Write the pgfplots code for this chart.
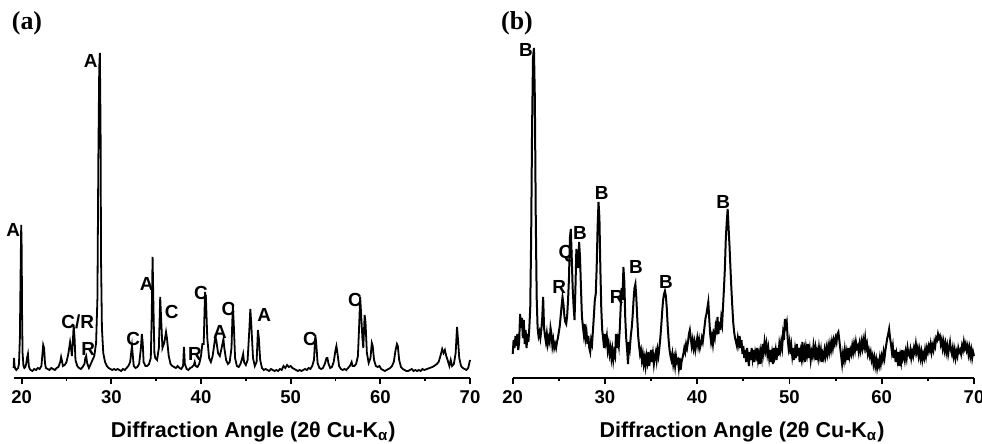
\documentclass[border=0pt]{standalone}
\usepackage{pgfplots}
\pgfplotsset{compat=1.18}
\usepackage{fontspec}
\setmainfont{Liberation Sans}
\newfontfamily\tnr{Liberation Serif}
\newcommand{\pk}[3]{\node[font=\fontsize{9.5}{9.5}\selectfont\bfseries,inner sep=0pt] at (axis cs:#1,#2) {#3};}
\pgfplotsset{
  xrdaxis/.style={
    scale only axis, height=166.5bp, anchor=south west,
    ymin=0, ymax=333, xmax=70, clip=false,
    axis x line*=bottom, axis y line=none,
    axis line style={line width=1bp},
    xtick={20,30,...,70}, minor xtick={25,35,...,65},
    tick align=outside, major tick length=3bp, minor tick length=1.6bp,
    every tick/.style={black,line width=0.9bp},
    /pgf/number format/assume math mode=true,
    xticklabel style={font=\fontsize{9.3}{10}\selectfont\bfseries},
    xlabel style={font=\fontsize{10.8}{12}\selectfont\bfseries, anchor=center},
  }
}
\begin{document}
\begin{tikzpicture}
\begin{axis}[xrdaxis, at={(6.8bp,33bp)}, width=228.2bp, xmin=19.1,
  xlabel={Diffraction Angle (2θ Cu-K\textsubscript{α})},
  xlabel style={at={(axis description cs:0.525,-0.162)}}]
\addplot[black, line width=0.9bp] coordinates {
(19.1,10) (19.15,20) (19.2,12) (19.3,9) (19.4,8) (19.5,9) (19.6,10) (19.7,14) (19.8,40) (19.9,120) (19.95,153) (20.0,130) (20.05,60) (20.1,25) (20.2,12) (20.3,10) (20.4,11) (20.5,14) (20.6,20) (20.7,24) (20.8,12) (20.9,9) (21.0,8) (21.2,7) (21.4,9) (21.6,8) (21.8,10) (22.0,9) (22.2,12) (22.3,22) (22.4,33) (22.5,30) (22.6,15) (22.7,10) (22.9,9) (23.1,8) (23.3,10) (23.5,9) (23.7,8) (23.9,10) (24.1,11) (24.3,16) (24.4,21) (24.5,17) (24.6,12) (24.8,13) (25.0,16) (25.2,24) (25.4,36) (25.5,30) (25.6,22) (25.7,35) (25.8,53) (25.9,40) (26.0,18) (26.2,12) (26.4,10) (26.6,9) (26.8,11) (27.0,14) (27.1,20) (27.2,22) (27.3,15) (27.5,10) (27.7,14) (27.9,18) (28.1,22) (28.3,35) (28.45,80) (28.55,218) (28.65,310) (28.72,325) (28.8,250) (28.85,120) (28.95,50) (29.1,25) (29.3,16) (29.5,12) (29.7,10) (29.9,9) (30.1,8) (30.3,9) (30.5,8) (30.7,9) (30.9,8) (31.1,7) (31.3,9) (31.5,8) (31.7,10) (31.9,12) (32.1,16) (32.2,24) (32.3,32) (32.4,22) (32.5,12) (32.7,10) (32.9,11) (33.1,14) (33.3,30) (33.4,44) (33.5,35) (33.6,16) (33.8,12) (34.0,12) (34.2,14) (34.4,20) (34.5,60) (34.6,121) (34.7,70) (34.8,25) (34.9,20) (35.1,18) (35.3,30) (35.45,81) (35.55,60) (35.7,30) (35.9,35) (36.1,46) (36.2,40) (36.4,22) (36.6,14) (36.8,12) (37.0,11) (37.2,10) (37.4,12) (37.6,10) (37.8,9) (38.0,12) (38.1,31) (38.2,14) (38.4,9) (38.6,8) (38.8,10) (39.0,11) (39.2,13) (39.3,16) (39.4,12) (39.6,11) (39.8,14) (40.0,22) (40.15,34) (40.3,34) (40.45,86) (40.55,80) (40.7,40) (40.9,20) (41.1,16) (41.3,22) (41.5,35) (41.6,41) (41.7,38) (41.9,25) (42.1,22) (42.3,30) (42.5,39) (42.6,30) (42.8,18) (43.0,14) (43.2,16) (43.4,30) (43.55,73) (43.65,55) (43.8,20) (44.0,12) (44.2,11) (44.4,14) (44.6,20) (44.7,24) (44.8,16) (45.0,13) (45.2,18) (45.4,50) (45.5,69) (45.6,55) (45.8,20) (46.0,12) (46.2,16) (46.35,48) (46.45,40) (46.6,18) (46.8,10) (47.0,8) (47.2,9) (47.4,8) (47.6,7) (47.8,9) (48.0,8) (48.2,7) (48.4,8) (48.6,7) (48.8,9) (49.0,8) (49.2,12) (49.4,10) (49.6,13) (49.8,11) (50.0,12) (50.2,10) (50.4,9) (50.6,8) (50.8,7) (51.0,8) (51.2,7) (51.4,8) (51.6,9) (51.8,8) (52.0,10) (52.2,9) (52.4,12) (52.6,18) (52.75,43) (52.85,35) (53.0,15) (53.2,10) (53.4,9) (53.6,10) (53.8,14) (54.0,20) (54.1,20) (54.2,15) (54.4,10) (54.6,11) (54.8,16) (55.0,28) (55.1,32) (55.2,26) (55.4,12) (55.6,9) (55.8,8) (56.0,9) (56.2,8) (56.4,10) (56.6,12) (56.8,16) (56.9,12) (57.1,12) (57.3,14) (57.5,22) (57.65,55) (57.75,81) (57.85,65) (58.0,40) (58.1,30) (58.25,63) (58.35,55) (58.5,25) (58.7,15) (58.9,20) (59.05,35) (59.15,32) (59.3,18) (59.5,12) (59.7,11) (59.9,12) (60.1,9) (60.3,8) (60.5,7) (60.7,8) (60.9,9) (61.1,10) (61.3,12) (61.5,16) (61.7,28) (61.85,34) (61.95,32) (62.1,18) (62.3,11) (62.5,9) (62.7,8) (62.9,7) (63.1,7) (63.3,8) (63.5,9) (63.7,7) (63.9,8) (64.1,7) (64.3,8) (64.5,7) (64.7,9) (64.9,8) (65.2,9) (65.5,10) (65.8,11) (66.0,12) (66.3,14) (66.5,16) (66.7,22) (66.9,29) (67.05,25) (67.2,28) (67.35,22) (67.5,18) (67.7,12) (67.85,18) (68.0,12) (68.2,14) (68.4,25) (68.55,51) (68.65,40) (68.8,20) (69.0,12) (69.2,10) (69.4,9) (69.6,8) (69.8,10) (69.9,14) (70.0,18)
};
\pk{19.07}{148}{A}
\pk{26.25}{56}{C/R}
\pk{27.43}{29}{R}
\pk{27.7}{317}{A}
\pk{32.45}{39}{C}
\pk{33.94}{94}{A}
\pk{36.73}{66}{C}
\pk{39.33}{24}{R}
\pk{40.0}{85}{C}
\pk{42.12}{46}{A}
\pk{43.05}{69}{C}
\pk{47.06}{63}{A}
\pk{52.16}{39}{C}
\pk{57.17}{78}{C}
\end{axis}
\begin{axis}[xrdaxis, at={(256.35bp,33bp)}, width=230.65bp, xmin=20,
  xlabel={Diffraction Angle (2θ Cu-K\textsubscript{α})},
  xlabel style={at={(axis description cs:0.497,-0.162)}}]
\addplot[black, line width=1bp] coordinates {
(20.0,24) (20.1,38) (20.2,30) (20.3,42) (20.4,32) (20.5,44) (20.6,28) (20.7,36) (20.8,64) (20.9,50) (21.0,60) (21.1,40) (21.2,58) (21.3,34) (21.4,48) (21.5,30) (21.6,44) (21.7,36) (21.8,50) (21.9,70) (22.0,140) (22.1,250) (22.2,320) (22.3,330) (22.4,280) (22.5,160) (22.6,80) (22.7,50) (22.8,42) (22.9,46) (23.0,40) (23.1,48) (23.2,60) (23.3,81) (23.4,50) (23.5,42) (23.6,36) (23.7,44) (23.8,34) (23.9,40) (24.0,36) (24.1,50) (24.2,44) (24.3,32) (24.4,38) (24.5,30) (24.6,34) (24.7,30) (24.8,36) (24.9,40) (25.0,46) (25.1,52) (25.2,62) (25.3,72) (25.4,81) (25.5,74) (25.6,62) (25.7,56) (25.8,54) (25.9,62) (26.0,78) (26.1,100) (26.2,140) (26.3,149) (26.4,120) (26.5,90) (26.6,72) (26.7,58) (26.8,90) (26.9,129) (27.0,120) (27.1,110) (27.2,136) (27.3,120) (27.4,90) (27.5,62) (27.6,52) (27.7,44) (27.8,54) (27.9,40) (28.0,46) (28.1,34) (28.2,42) (28.3,30) (28.4,26) (28.5,38) (28.6,34) (28.7,48) (28.8,62) (28.9,78) (29.0,84) (29.1,110) (29.2,150) (29.3,176) (29.4,160) (29.5,110) (29.6,70) (29.7,48) (29.8,40) (29.9,30) (30.0,44) (30.1,36) (30.2,42) (30.3,28) (30.4,34) (30.5,24) (30.6,30) (30.7,20) (30.8,28) (30.9,18) (31.0,26) (31.1,22) (31.2,44) (31.3,30) (31.4,38) (31.5,32) (31.6,48) (31.7,70) (31.8,90) (31.9,78) (32.0,111) (32.1,96) (32.2,60) (32.3,40) (32.4,28) (32.5,14) (32.6,36) (32.7,30) (32.8,42) (32.9,50) (33.0,62) (33.1,78) (33.2,90) (33.3,94) (33.4,80) (33.5,60) (33.6,42) (33.7,32) (33.8,24) (33.9,28) (34.0,18) (34.1,24) (34.2,14) (34.3,20) (34.4,12) (34.5,22) (34.6,16) (34.7,26) (34.8,12) (34.9,20) (35.0,28) (35.1,16) (35.2,24) (35.3,14) (35.4,22) (35.5,26) (35.6,18) (35.7,28) (35.8,22) (35.9,30) (36.0,40) (36.1,52) (36.2,66) (36.3,78) (36.4,84) (36.5,87) (36.6,82) (36.7,70) (36.8,52) (36.9,38) (37.0,28) (37.1,22) (37.2,18) (37.3,24) (37.4,14) (37.5,20) (37.6,12) (37.7,22) (37.8,16) (37.9,18) (38.0,10) (38.1,20) (38.2,8) (38.3,16) (38.4,20) (38.5,24) (38.6,30) (38.7,26) (38.8,34) (38.9,30) (39.0,36) (39.1,44) (39.2,48) (39.3,40) (39.4,32) (39.5,38) (39.6,30) (39.7,36) (39.8,28) (39.9,34) (40.0,40) (40.1,32) (40.2,38) (40.3,30) (40.4,34) (40.5,40) (40.6,36) (40.7,44) (40.8,52) (40.9,60) (41.0,64) (41.1,70) (41.2,76) (41.3,60) (41.4,44) (41.5,36) (41.6,42) (41.7,34) (41.8,44) (41.9,40) (42.0,52) (42.1,48) (42.2,61) (42.3,44) (42.4,56) (42.5,48) (42.6,60) (42.7,54) (42.8,72) (42.9,90) (43.0,110) (43.1,140) (43.2,156) (43.3,169) (43.4,150) (43.5,132) (43.6,110) (43.7,90) (43.8,72) (43.9,56) (44.0,46) (44.1,40) (44.2,36) (44.3,32) (44.4,40) (44.5,34) (44.6,42) (44.7,30) (44.8,38) (44.9,24) (45.0,32) (45.1,20) (45.2,28) (45.3,16) (45.4,30) (45.5,22) (45.6,12) (45.7,26) (45.8,18) (45.9,30) (46.0,20) (46.1,28) (46.2,16) (46.3,26) (46.4,22) (46.5,30) (46.6,18) (46.7,24) (46.8,14) (46.9,26) (47.0,20) (47.1,34) (47.2,26) (47.3,36) (47.4,28) (47.5,34) (47.6,24) (47.7,30) (47.8,20) (47.9,28) (48.0,16) (48.1,24) (48.2,14) (48.3,30) (48.4,22) (48.5,28) (48.6,18) (48.7,30) (48.8,22) (48.9,34) (49.0,28) (49.1,36) (49.2,30) (49.3,44) (49.4,38) (49.5,59) (49.6,52) (49.7,56) (49.8,40) (49.9,30) (50.0,36) (50.1,24) (50.2,32) (50.3,22) (50.4,30) (50.5,18) (50.6,28) (50.7,20) (50.8,34) (50.9,22) (51.0,30) (51.1,16) (51.2,26) (51.3,20) (51.4,36) (51.5,22) (51.6,28) (51.7,16) (51.8,30) (51.9,24) (52.0,34) (52.1,20) (52.2,28) (52.3,18) (52.4,26) (52.5,22) (52.6,32) (52.7,24) (52.8,30) (52.9,18) (53.0,26) (53.1,20) (53.2,30) (53.3,22) (53.4,28) (53.5,16) (53.6,24) (53.7,20) (53.8,28) (53.9,22) (54.0,30) (54.1,24) (54.2,32) (54.3,26) (54.4,34) (54.5,28) (54.6,36) (54.7,30) (54.8,38) (54.9,34) (55.0,40) (55.1,36) (55.2,44) (55.3,46) (55.4,38) (55.5,30) (55.6,22) (55.7,14) (55.8,24) (55.9,18) (56.0,28) (56.1,20) (56.2,26) (56.3,18) (56.4,30) (56.5,22) (56.6,28) (56.7,24) (56.8,32) (56.9,26) (57.0,34) (57.1,28) (57.2,36) (57.3,30) (57.4,32) (57.5,26) (57.6,34) (57.7,28) (57.8,36) (57.9,30) (58.0,38) (58.1,32) (58.2,40) (58.3,30) (58.4,34) (58.5,24) (58.6,28) (58.7,22) (58.8,26) (58.9,18) (59.0,22) (59.1,14) (59.2,20) (59.3,12) (59.4,18) (59.5,10) (59.6,16) (59.7,12) (59.8,20) (59.9,14) (60.0,22) (60.1,18) (60.2,26) (60.3,20) (60.4,28) (60.5,34) (60.6,40) (60.7,44) (60.8,49) (60.9,40) (61.0,34) (61.1,26) (61.2,32) (61.3,20) (61.4,28) (61.5,16) (61.6,24) (61.7,18) (61.8,26) (61.9,12) (62.0,22) (62.1,16) (62.2,28) (62.3,20) (62.4,24) (62.5,18) (62.6,26) (62.7,20) (62.8,30) (62.9,24) (63.0,22) (63.1,28) (63.2,20) (63.3,26) (63.4,22) (63.5,30) (63.6,26) (63.7,34) (63.8,26) (63.9,30) (64.0,22) (64.1,28) (64.2,20) (64.3,26) (64.4,18) (64.5,24) (64.6,20) (64.7,28) (64.8,22) (64.9,30) (65.0,26) (65.1,32) (65.2,28) (65.3,34) (65.4,26) (65.5,32) (65.6,28) (65.7,36) (65.8,32) (65.9,40) (66.0,38) (66.1,44) (66.2,40) (66.3,42) (66.4,34) (66.5,38) (66.6,30) (66.7,36) (66.8,28) (66.9,34) (67.0,26) (67.1,32) (67.2,24) (67.3,30) (67.4,36) (67.5,28) (67.6,24) (67.7,30) (67.8,22) (67.9,28) (68.0,20) (68.1,26) (68.2,22) (68.3,30) (68.4,26) (68.5,28) (68.6,24) (68.7,32) (68.8,28) (68.9,36) (69.0,30) (69.1,34) (69.2,28) (69.3,32) (69.4,24) (69.5,30) (69.6,22) (69.7,28) (69.8,20) (69.9,26) (70.0,22)
};
\pk{21.44}{328}{B}
\pk{25.05}{91}{R}
\pk{25.78}{124}{Q}
\pk{27.29}{145}{B}
\pk{29.64}{185}{B}
\pk{31.26}{81}{R}
\pk{33.36}{111}{B}
\pk{36.61}{96}{B}
\pk{42.82}{176}{B}
\end{axis}
\node[font=\tnr\fontsize{13}{13}\selectfont\bfseries] at (13.5bp,210.5bp) {(a)};
\node[font=\tnr\fontsize{13}{13}\selectfont\bfseries] at (258.5bp,210.5bp) {(b)};
\pgfresetboundingbox
\path (0,0) rectangle (491bp,222bp);
\end{tikzpicture}
\end{document}
